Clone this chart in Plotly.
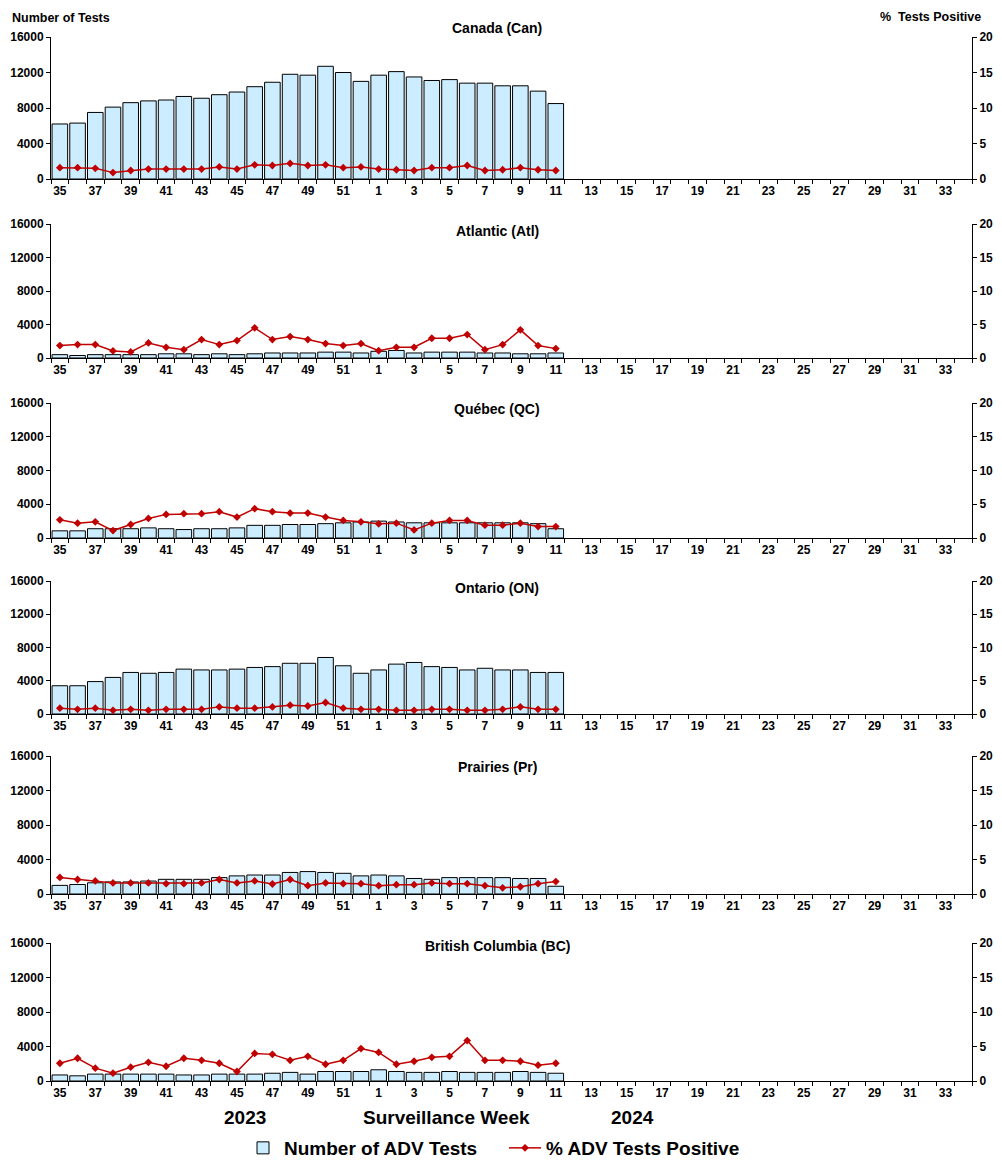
import plotly.graph_objects as go

# ---------------- data ----------------
weeks_2023 = list(range(35, 53))
weeks_2024 = list(range(1, 35))
weeks = weeks_2023 + weeks_2024           # 52 surveillance weeks
tick_weeks = weeks[::2]                   # 35,37,...,51,1,3,...,33

regions = ["Canada (Can)", "Atlantic (Atl)", "Québec (QC)", "Ontario (ON)",
           "Prairies (Pr)", "British Columbia (BC)"]

can_tests = [6200, 6300, 7500, 8100, 8600, 8800, 8900, 9300, 9100, 9500, 9800, 10400,
             10900, 11800, 11700, 12700, 12000, 11000, 11700, 12100, 11500, 11100, 11200,
             10800, 10800, 10500, 10500, 9900, 8500]
can_pct = [1.6, 1.6, 1.5, 0.9, 1.2, 1.4, 1.4, 1.4, 1.4, 1.7, 1.4, 2.0, 1.9, 2.2, 1.9,
           2.0, 1.6, 1.7, 1.4, 1.3, 1.2, 1.6, 1.6, 1.9, 1.2, 1.3, 1.6, 1.3, 1.2]

atl_tests = [400, 300, 400, 400, 400, 400, 500, 500, 400, 500, 400, 500, 600, 600, 600,
             700, 700, 600, 800, 900, 600, 700, 700, 700, 600, 600, 500, 500, 600]
atl_pct = [1.85, 2.0, 2.0, 1.05, 0.9, 2.25, 1.6, 1.25, 2.75, 2.0, 2.6, 4.5, 2.75, 3.2,
           2.75, 2.15, 1.85, 2.15, 1.1, 1.6, 1.6, 2.95, 2.95, 3.5, 1.25, 2.0, 4.2, 1.85, 1.4]

qc_tests = [850, 850, 1100, 1100, 1100, 1200, 1100, 1000, 1100, 1100, 1200, 1500, 1500,
            1600, 1600, 1700, 1800, 1900, 2000, 1900, 1800, 1800, 1800, 1800, 1800, 1800,
            1800, 1700, 1100]
qc_pct = [2.7, 2.2, 2.4, 1.1, 2.0, 2.9, 3.5, 3.6, 3.6, 3.9, 3.1, 4.35, 3.9, 3.7, 3.7,
          3.1, 2.6, 2.4, 2.1, 2.2, 1.2, 2.2, 2.6, 2.6, 1.9, 1.9, 2.2, 1.7, 1.7]

on_tests = [3400, 3400, 3900, 4400, 5000, 4900, 5000, 5400, 5300, 5300, 5400, 5600, 5700,
            6100, 6100, 6800, 5800, 4900, 5300, 6000, 6200, 5700, 5600, 5300, 5500, 5300,
            5300, 5000, 5000]
on_pct = [0.87, 0.7, 0.87, 0.56, 0.7, 0.56, 0.7, 0.7, 0.7, 1.07, 0.87, 0.87, 1.07, 1.33,
          1.2, 1.73, 0.87, 0.7, 0.7, 0.56, 0.56, 0.7, 0.7, 0.56, 0.56, 0.7, 1.07, 0.7, 0.7]

pr_tests = [1000, 1100, 1300, 1400, 1400, 1500, 1700, 1700, 1700, 1900, 2100, 2200, 2200,
            2500, 2600, 2500, 2400, 2100, 2200, 2100, 1800, 1700, 1900, 1900, 1900, 1900,
            1800, 1800, 900]
pr_pct = [2.4, 2.1, 1.9, 1.6, 1.6, 1.6, 1.5, 1.5, 1.6, 2.1, 1.6, 1.9, 1.45, 2.1, 1.2,
          1.6, 1.5, 1.5, 1.2, 1.35, 1.35, 1.6, 1.5, 1.5, 1.2, 0.9, 1.05, 1.5, 1.8]

bc_tests = [700, 600, 800, 800, 800, 800, 800, 700, 700, 800, 800, 800, 900, 1000, 800,
            1100, 1100, 1100, 1300, 1100, 1000, 1000, 1100, 1000, 1000, 1000, 1100, 1000, 900]
bc_pct = [2.57, 3.3, 1.86, 1.14, 2.0, 2.7, 2.14, 3.3, 3.0, 2.57, 1.38, 4.0, 3.86, 3.0,
          3.57, 2.43, 3.0, 4.7, 4.14, 2.43, 2.86, 3.43, 3.57, 5.86, 3.0, 3.0, 2.86, 2.29, 2.57]

tests = [can_tests, atl_tests, qc_tests, on_tests, pr_tests, bc_tests]
pcts = [can_pct, atl_pct, qc_pct, on_pct, pr_pct, bc_pct]

left_ticks = [0, 4000, 8000, 12000, 16000]
left_ticktext = ["0", "4000", "8000", "12000", "16000"]
right_ticks = [0, 5, 10, 15, 20]
right_ticktext = ["0", "5", "10", "15", "20"]

# ---------------- layout helpers ----------------
OFF = 8                      # page body margin
W, H = 1002 - 2 * OFF, 1170 - 2 * OFF
def px(x):
    return (x - OFF) / W
def py(y):
    return 1 - (y - OFF) / H

FONT = "Liberation Sans"
BAR_FILL = "#CCECFF"
LINE_COL = "#C00000"
TICKFONT = dict(family=FONT, size=12, weight="bold", color="black")

panel_px = [(37, 179), (224, 358), (403, 538), (581, 714), (756, 894), (943, 1081)]
title_y = [28, 231, 409, 588, 767, 946]

fig = go.Figure()
layout = dict(
    width=W, height=H,
    margin=dict(l=0, r=0, t=0, b=0, autoexpand=False),
    paper_bgcolor="white", plot_bgcolor="white",
    barmode="overlay",
    font=dict(family=FONT, color="black", size=12, weight="bold"),
    showlegend=True,
    legend=dict(orientation="h", x=px(504), y=py(1148), xanchor="center", yanchor="middle",
                font=dict(family=FONT, size=19, weight="bold", color="black"),
                itemwidth=32, entrywidth=215, tracegroupgap=0, bgcolor="rgba(0,0,0,0)"),
)

xidx = list(range(len(weeks)))
tickvals = [i for i in xidx if i % 2 == 0]
ticktext = [str(w) for w in tick_weeks]
xrange_ = [-0.5, len(weeks) - 0.5]

annotations = []
for k in range(6):
    n = k + 1
    xa = "x" if n == 1 else f"x{n}"
    yl_i = 2 * k + 1
    yr_i = 2 * k + 2
    yl = "y" if yl_i == 1 else f"y{yl_i}"
    yr = f"y{yr_i}"
    top, bot = panel_px[k]
    nvals = len(tests[k])
    fig.add_trace(go.Bar(
        x=xidx[:nvals], y=tests[k], xaxis=xa, yaxis=yl,
        marker=dict(color=BAR_FILL, line=dict(color="black", width=1)),
        name="Number of ADV Tests", showlegend=(k == 0), legendgroup="bars",
        width=0.88,
    ))
    fig.add_trace(go.Scatter(
        x=xidx[:len(pcts[k])], y=pcts[k], xaxis=xa, yaxis=yr,
        mode="lines+markers",
        line=dict(color=LINE_COL, width=1.5),
        marker=dict(symbol="diamond", size=6, color=LINE_COL),
        name="% ADV Tests Positive", showlegend=(k == 0), legendgroup="line",
    ))
    xkey = "xaxis" if n == 1 else f"xaxis{n}"
    ylkey = "yaxis" if yl_i == 1 else f"yaxis{yl_i}"
    yrkey = f"yaxis{yr_i}"
    layout[xkey] = dict(
        domain=[px(51), px(972)], anchor=yl, range=xrange_,
        automargin=False,
        tickmode="array", tickvals=tickvals, ticktext=ticktext,
        ticks="outside", ticklen=0, tickcolor="black",
        minor=dict(tickmode="linear", tick0=-0.5, dtick=1, ticks="outside",
                   ticklen=4, tickcolor="black", tickwidth=1, showgrid=False),
        showline=True, linecolor="black", linewidth=1.2,
        showgrid=False, zeroline=False, fixedrange=True,
        tickfont=TICKFONT,
    )
    layout[ylkey] = dict(
        domain=[py(bot), py(top)], anchor=xa, range=[0, 16000],
        automargin=False,
        tickmode="array", tickvals=left_ticks, ticktext=left_ticktext,
        ticks="outside", ticklen=4, tickcolor="black",
        showline=True, linecolor="black", linewidth=1,
        showgrid=False, zeroline=False,
        tickfont=TICKFONT,
    )
    layout[yrkey] = dict(
        overlaying=yl, side="right", anchor=xa, range=[0, 20],
        automargin=False,
        tickmode="array", tickvals=right_ticks, ticktext=right_ticktext,
        ticks="outside", ticklen=4, tickcolor="black",
        showline=True, linecolor="black", linewidth=1,
        showgrid=False, zeroline=False,
        tickfont=TICKFONT,
    )
    # overlay axes that draw the inner half of the cross-shaped tick marks
    xo_i = 6 + n
    layout[f"xaxis{xo_i}"] = dict(
        overlaying=xa, anchor=yl, range=xrange_, automargin=False,
        tickmode="array", tickvals=tickvals, ticktext=[""] * len(tickvals),
        ticks="inside", ticklen=0, showticklabels=False,
        minor=dict(tickmode="linear", tick0=-0.5, dtick=1, ticks="inside",
                   ticklen=4, tickcolor="black", tickwidth=1, showgrid=False),
        showline=False, showgrid=False, zeroline=False, fixedrange=True,
    )
    yo_l = 12 + 2 * k + 1
    yo_r = 12 + 2 * k + 2
    layout[f"yaxis{yo_l}"] = dict(
        overlaying=yl, side="left", anchor=xa, range=[0, 16000], automargin=False,
        tickmode="array", tickvals=left_ticks, showticklabels=False,
        ticks="inside", ticklen=4, tickcolor="black",
        showline=False, showgrid=False, zeroline=False,
    )
    layout[f"yaxis{yo_r}"] = dict(
        overlaying=yl, side="right", anchor=xa, range=[0, 20], automargin=False,
        tickmode="array", tickvals=right_ticks, showticklabels=False,
        ticks="inside", ticklen=4, tickcolor="black",
        showline=False, showgrid=False, zeroline=False,
    )
    annotations.append(dict(
        text=regions[k], xref="paper", yref="paper", x=px(497), y=py(title_y[k]),
        xanchor="center", yanchor="middle", showarrow=False,
        font=dict(family=FONT, size=14, weight="bold", color="black"),
    ))

annotations += [
    dict(text="Number of Tests", xref="paper", yref="paper", x=px(10), y=py(18),
         xanchor="left", yanchor="middle", showarrow=False,
         font=dict(family=FONT, size=12.5, weight="bold")),
    dict(text="%  Tests Positive", xref="paper", yref="paper", x=px(983), y=py(17),
         xanchor="right", yanchor="middle", showarrow=False,
         font=dict(family=FONT, size=12.5, weight="bold")),
    dict(text="2023", xref="paper", yref="paper", x=px(245), y=py(1117),
         xanchor="center", yanchor="middle", showarrow=False,
         font=dict(family=FONT, size=19, weight="bold")),
    dict(text="Surveillance Week", xref="paper", yref="paper", x=px(446), y=py(1117),
         xanchor="center", yanchor="middle", showarrow=False,
         font=dict(family=FONT, size=19, weight="bold")),
    dict(text="2024", xref="paper", yref="paper", x=px(632), y=py(1117),
         xanchor="center", yanchor="middle", showarrow=False,
         font=dict(family=FONT, size=19, weight="bold")),
]
layout["annotations"] = annotations
fig.update_layout(**layout)
fig.write_html("out.html")
